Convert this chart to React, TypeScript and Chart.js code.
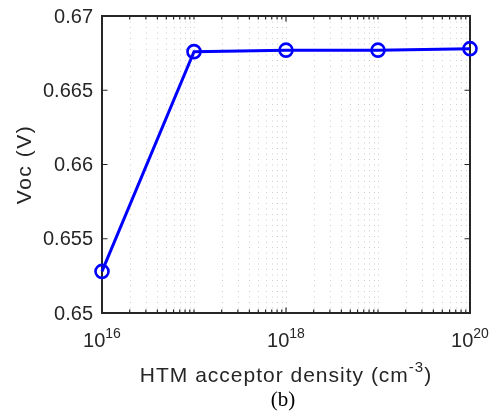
import React, { useEffect, useRef } from "react";
import { Chart, registerables } from "chart.js";

Chart.register(...registerables);

// ---- data ----
const acceptorDensity = [1e16, 1e17, 1e18, 1e19, 1e20];
const vocValues = [0.6528, 0.6676, 0.6677, 0.6677, 0.6678];

const xTickValues = [1e16, 1e18, 1e20];
const xTickBase = ["10", "10", "10"];
const xTickExp = ["16", "18", "20"];
const yTickValues = [0.65, 0.655, 0.66, 0.665, 0.67];
const yTickLabels = ["0.65", "0.655", "0.66", "0.665", "0.67"];
const xDecades = [16, 17, 18, 19];
const minorMultipliers = [1, 2, 3, 4, 5, 6, 7, 8, 9];

const xTitleMain = "HTM acceptor density (cm";
const xTitleSup = "-3";
const xTitleEnd = ")";
const yTitle = "Voc (V)";
const panelLabel = "(b)";

const SANS = "'Liberation Sans', Arial, Helvetica, sans-serif";
const SERIF = "'Liberation Serif', 'Times New Roman', serif";
const AXIS_COLOR = "#262626";

const framePlugin = {
  id: "matlabFrame",
  beforeDatasetsDraw(chart: any) {
    const { ctx, chartArea: a, scales } = chart;
    const xs = scales.x;
    const ys = scales.y;
    ctx.save();
    // dotted vertical grid
    ctx.strokeStyle = "#cccccc";
    ctx.lineWidth = 1;
    ctx.setLineDash([1, 4.5]);
    for (const d of xDecades) {
      for (const m of minorMultipliers) {
        const v = m * Math.pow(10, d);
        const px = Math.round(xs.getPixelForValue(v)) + 0.5;
        if (px <= a.left + 2 || px >= a.right - 2) continue;
        ctx.beginPath();
        ctx.moveTo(px, a.top);
        ctx.lineTo(px, a.bottom);
        ctx.stroke();
      }
    }
    ctx.setLineDash([]);
    // ticks
    ctx.strokeStyle = AXIS_COLOR;
    ctx.lineWidth = 1.2;
    for (const d of xDecades) {
      for (const m of minorMultipliers) {
        const v = m * Math.pow(10, d);
        const px = xs.getPixelForValue(v);
        const major = xTickValues.includes(v);
        const len = major ? 5.5 : 3.5;
        ctx.beginPath();
        ctx.moveTo(px, a.bottom);
        ctx.lineTo(px, a.bottom - len);
        ctx.moveTo(px, a.top);
        ctx.lineTo(px, a.top + len);
        ctx.stroke();
      }
    }
    for (const v of yTickValues) {
      const py = ys.getPixelForValue(v);
      ctx.beginPath();
      ctx.moveTo(a.left, py);
      ctx.lineTo(a.left + 5.5, py);
      ctx.moveTo(a.right, py);
      ctx.lineTo(a.right - 5.5, py);
      ctx.stroke();
    }
    // box
    ctx.lineWidth = 2;
    ctx.strokeRect(a.left, a.top, a.right - a.left, a.bottom - a.top);
    ctx.restore();
  },
  afterDraw(chart: any) {
    const { ctx, chartArea: a, scales } = chart;
    const xs = scales.x;
    const ys = scales.y;
    ctx.save();
    ctx.fillStyle = AXIS_COLOR;
    // y tick labels
    ctx.font = `20px ${SANS}`;
    ctx.textAlign = "right";
    ctx.textBaseline = "middle";
    yTickValues.forEach((v, i) => {
      ctx.fillText(yTickLabels[i], a.left - 9, ys.getPixelForValue(v) + 1);
    });
    // x tick labels with superscripts
    ctx.textAlign = "left";
    ctx.textBaseline = "alphabetic";
    xTickValues.forEach((v, i) => {
      ctx.font = `20px ${SANS}`;
      const wb = ctx.measureText(xTickBase[i]).width;
      ctx.font = `14px ${SANS}`;
      const we = ctx.measureText(xTickExp[i]).width;
      const cx = xs.getPixelForValue(v);
      const x0 = cx - (wb + we) / 2;
      ctx.font = `20px ${SANS}`;
      ctx.fillText(xTickBase[i], x0, a.bottom + 34);
      ctx.font = `14px ${SANS}`;
      ctx.fillText(xTickExp[i], x0 + wb, a.bottom + 25);
    });
    // x title
    const cxAxis = (a.left + a.right) / 2;
    (ctx as any).letterSpacing = "1px";
    ctx.font = `21px ${SANS}`;
    const w1 = ctx.measureText(xTitleMain).width;
    const w3 = ctx.measureText(xTitleEnd).width;
    ctx.font = `15px ${SANS}`;
    const w2 = ctx.measureText(xTitleSup).width;
    const tx = cxAxis - (w1 + w2 + w3) / 2;
    const tyBase = a.bottom + 69;
    ctx.font = `21px ${SANS}`;
    ctx.fillText(xTitleMain, tx, tyBase);
    ctx.font = `15px ${SANS}`;
    ctx.fillText(xTitleSup, tx + w1, tyBase - 10);
    ctx.font = `21px ${SANS}`;
    ctx.fillText(xTitleEnd, tx + w1 + w2, tyBase);
    // y title
    ctx.save();
    ctx.letterSpacing = "1.5px";
    ctx.translate(25, (a.top + a.bottom) / 2);
    ctx.rotate(-Math.PI / 2);
    ctx.textAlign = "center";
    ctx.textBaseline = "middle";
    ctx.font = `21px ${SANS}`;
    ctx.fillText(yTitle, 0, 0);
    ctx.restore();
    (ctx as any).letterSpacing = "0px";
    // panel label
    ctx.fillStyle = "#000000";
    ctx.font = `21px ${SERIF}`;
    ctx.textAlign = "center";
    ctx.textBaseline = "alphabetic";
    ctx.fillText(panelLabel, 283, 406);
    ctx.restore();
  },
};

export default function App() {
  const canvasRef = useRef<HTMLCanvasElement | null>(null);

  useEffect(() => {
    if (!canvasRef.current) return;
    const chart = new Chart(canvasRef.current, {
      type: "line",
      data: {
        datasets: [
          {
            data: acceptorDensity.map((x, i) => ({ x, y: vocValues[i] })),
            borderColor: "#0000ff",
            borderWidth: 3,
            pointRadius: 6.5,
            pointBorderWidth: 2.6,
            pointBorderColor: "#0000ff",
            pointBackgroundColor: "rgba(0,0,0,0)",
            tension: 0,
            clip: false as any,
          },
        ],
      },
      options: {
        animation: false,
        responsive: false,
        devicePixelRatio: 1,
        layout: { padding: { left: 102, top: 16, right: 28, bottom: 105 } },
        plugins: { legend: { display: false }, tooltip: { enabled: false } },
        scales: {
          x: { type: "logarithmic", min: 1e16, max: 1e20, display: false },
          y: { type: "linear", min: 0.65, max: 0.67, display: false },
        },
      },
      plugins: [framePlugin],
    });
    return () => chart.destroy();
  }, []);

  return (
    <div style={{ position: "absolute", left: 0, top: 0, width: 498, height: 418, background: "#fff" }}>
      <canvas ref={canvasRef} width={498} height={418} />
    </div>
  );
}
